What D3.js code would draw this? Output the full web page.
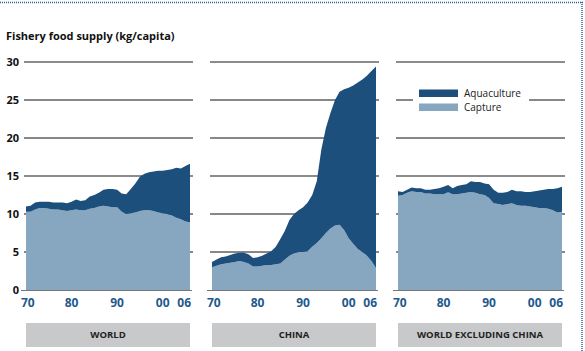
<!DOCTYPE html>
<html>
<head>
<meta charset="utf-8">
<script src="https://cdn.jsdelivr.net/npm/d3@7"></script>
<style>
  body { margin: 0; background: #fff; }
  svg { display: block; font-family: "Open Sans", "Noto Sans", sans-serif; }
</style>
</head>
<body>
<div id="chart"></div>
<script>
// Years on the x axis
const years = d3.range(1970, 2007);
const xTickYears = [1970, 1980, 1990, 2000, 2006];
const xTickLabels = ['70', '80', '90', '00', '06'];
const yTicks = [0, 5, 10, 15, 20, 25, 30];

// kg/capita
const worldCapture = [10.3, 10.3, 10.6, 10.8, 10.8, 10.7, 10.6, 10.6, 10.5, 10.4,
  10.5, 10.6, 10.5, 10.5, 10.7, 10.8, 11.0, 11.1, 11.0, 10.9,
  10.9, 10.3, 10.0, 10.1, 10.2, 10.4, 10.5, 10.5, 10.4, 10.2,
  10.1, 10.0, 9.8, 9.5, 9.3, 9.0, 8.9];
const worldAqua = [0.7, 0.8, 0.9, 0.8, 0.8, 0.9, 0.9, 0.9, 1.0, 1.0,
  1.1, 1.3, 1.2, 1.3, 1.6, 1.7, 1.8, 2.1, 2.3, 2.4,
  2.3, 2.4, 2.6, 3.2, 3.8, 4.5, 4.8, 5.0, 5.2, 5.5,
  5.6, 5.8, 6.1, 6.6, 6.7, 7.3, 7.7];

const chinaCapture = [3.0, 3.2, 3.4, 3.5, 3.6, 3.7, 3.8, 3.7, 3.5, 3.1,
  3.1, 3.2, 3.3, 3.3, 3.4, 3.5, 4.0, 4.5, 4.8, 5.0,
  5.0, 5.1, 5.7, 6.2, 6.8, 7.5, 8.1, 8.5, 8.6, 7.9,
  6.8, 6.1, 5.4, 5.0, 4.5, 3.8, 2.9];
const chinaAqua = [0.7, 0.8, 0.9, 0.9, 1.0, 1.1, 1.1, 1.2, 1.2, 1.1,
  1.2, 1.3, 1.5, 1.8, 2.3, 3.2, 3.8, 4.7, 5.2, 5.5,
  5.9, 6.4, 6.8, 8.1, 11.7, 13.8, 15.2, 16.5, 17.5, 18.5,
  19.8, 20.8, 21.9, 22.7, 23.7, 25.0, 26.5];

const exChinaCapture = [12.4, 12.5, 12.8, 13.0, 12.9, 12.9, 12.7, 12.7, 12.6, 12.6,
  12.6, 12.85, 12.6, 12.6, 12.7, 12.8, 12.9, 12.8, 12.6, 12.5,
  12.1, 11.4, 11.3, 11.2, 11.3, 11.4, 11.2, 11.1, 11.1, 11.0,
  10.9, 10.8, 10.8, 10.7, 10.5, 10.2, 10.3];
const exChinaAqua = [0.6, 0.4, 0.4, 0.5, 0.5, 0.5, 0.5, 0.5, 0.7, 0.8,
  1.0, 0.95, 0.8, 1.1, 1.1, 1.1, 1.4, 1.4, 1.6, 1.5,
  1.8, 1.8, 1.5, 1.6, 1.6, 1.8, 1.8, 1.9, 1.8, 1.9,
  2.1, 2.3, 2.4, 2.6, 2.8, 3.2, 3.3];

const panelNames = ['WORLD', 'CHINA', 'WORLD EXCLUDING CHINA'];
const seriesNames = ['Capture', 'Aquaculture'];

const config = {
  width: 585,
  height: 351,
  panelLeft: 26,
  panelStep: 186,
  panelWidth: 164,
  yTop: 62,
  yBottom: 290
};

const colors = { Capture: '#86a7bf', Aquaculture: '#1c4f7c' };

const panels = [
  { name: panelNames[0], capture: worldCapture, aqua: worldAqua },
  { name: panelNames[1], capture: chinaCapture, aqua: chinaAqua },
  { name: panelNames[2], capture: exChinaCapture, aqua: exChinaAqua }
];

const svg = d3.select('#chart').append('svg')
  .attr('width', config.width)
  .attr('height', config.height);

// dotted frame (top and right)
svg.append('line')
  .attr('x1', 0).attr('x2', 583).attr('y1', 2.5).attr('y2', 2.5)
  .attr('stroke', '#2d5e8e').attr('stroke-width', 1.5).attr('stroke-dasharray', '1,1');
svg.append('line')
  .attr('x1', 582).attr('x2', 582).attr('y1', 2).attr('y2', 351)
  .attr('stroke', '#2d5e8e').attr('stroke-width', 1.5).attr('stroke-dasharray', '1,1');

// title
svg.append('text')
  .attr('x', 6).attr('y', 40)
  .attr('font-size', 11).attr('font-weight', 'bold').attr('fill', '#111')
  .text('Fishery food supply (kg/capita)');

const y = d3.scaleLinear().domain([0, 30]).range([config.yBottom, config.yTop]);

// y labels
svg.append('g').selectAll('text')
  .data(yTicks)
  .enter().append('text')
  .attr('x', 19)
  .attr('y', d => y(d))
  .attr('dy', '0.35em')
  .attr('text-anchor', 'end')
  .attr('font-size', 11).attr('font-weight', 'bold').attr('fill', '#111')
  .text(d => d);

panels.forEach((p, i) => {
  const x0 = config.panelLeft + i * config.panelStep;
  const x = d3.scaleLinear().domain([1970, 2006]).range([x0, x0 + config.panelWidth]);
  const g = svg.append('g').attr('class', 'panel');

  // gridlines
  g.selectAll('.grid')
    .data(yTicks.filter(d => d > 0))
    .enter().append('line')
    .attr('class', 'grid')
    .attr('x1', x0 - 2).attr('x2', x0 + config.panelWidth + 3)
    .attr('y1', d => y(d)).attr('y2', d => y(d))
    .attr('stroke', d => (d === 30 || d === 15) ? '#666' : '#111')
    .attr('stroke-width', d => (d === 30 || d === 15) ? 1.4 : 1);

  // stacked areas
  const rows = years.map((yr, k) => ({ year: yr, Capture: p.capture[k], Aquaculture: p.aqua[k] }));
  const stacked = d3.stack().keys(seriesNames)(rows);
  const area = d3.area()
    .x(d => x(d.data.year))
    .y0(d => y(d[0]))
    .y1(d => y(d[1]));
  g.selectAll('.area')
    .data(stacked)
    .enter().append('path')
    .attr('class', 'area')
    .attr('fill', d => colors[d.key])
    .attr('d', area);

  // baseline
  g.append('line')
    .attr('x1', x0 - 5).attr('x2', x0 + config.panelWidth + 2)
    .attr('y1', y(0) + 0.5).attr('y2', y(0) + 0.5)
    .attr('stroke', '#777').attr('stroke-width', 1);

  // x tick labels
  g.selectAll('.xlab')
    .data(xTickYears)
    .enter().append('text')
    .attr('class', 'xlab')
    .attr('x', (d, k) => k === 0 ? x(d) - 5 : (k === xTickYears.length - 1 ? x(d) + 1 : x(d)))
    .attr('y', 307)
    .attr('text-anchor', (d, k) => k === 0 ? 'start' : (k === xTickYears.length - 1 ? 'end' : 'middle'))
    .attr('font-size', 12).attr('font-weight', 'bold').attr('fill', '#1f5a8c')
    .text((d, k) => xTickLabels[k]);

  // panel name box
  g.append('rect')
    .attr('x', x0).attr('y', 323)
    .attr('width', config.panelWidth).attr('height', 24)
    .attr('fill', '#c8c9cb');
  g.append('text')
    .attr('x', x0 + config.panelWidth / 2).attr('y', 335)
    .attr('dy', '0.35em')
    .attr('text-anchor', 'middle')
    .attr('font-size', 9.5).attr('font-weight', 'bold').attr('fill', '#222')
    .text(p.name);
});

// legend in the third panel
const legend = svg.append('g').attr('class', 'legend');
legend.append('rect')
  .attr('x', 413).attr('y', 86).attr('width', 116).attr('height', 28)
  .attr('fill', '#fff');
const legendItems = ['Aquaculture', 'Capture'];
legend.selectAll('.cell')
  .data(legendItems)
  .enter().append('rect')
  .attr('class', 'cell')
  .attr('x', 419).attr('y', (d, i) => 89.5 + i * 14)
  .attr('width', 39).attr('height', 7.5)
  .attr('fill', d => colors[d]);
legend.selectAll('.lab')
  .data(legendItems)
  .enter().append('text')
  .attr('class', 'lab')
  .attr('x', 464).attr('y', (d, i) => 93 + i * 14)
  .attr('dy', '0.35em')
  .attr('font-size', 10).attr('fill', '#222')
  .text(d => d);
</script>
</body>
</html>
